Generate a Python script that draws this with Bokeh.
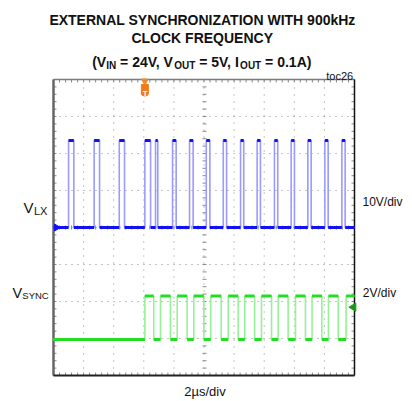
import numpy as np
from bokeh.plotting import figure
from bokeh.models import Range1d, Label
from bokeh.embed import file_html
from bokeh.resources import INLINE

# ---------------- data (read from the scope capture) ----------------
# time axis: 2 us/div, 10 divisions; vertical axis in divisions (8 divs)
VLX_LOW, VLX_HIGH = 0.0, 2.35          # 10V/div channel, divisions
SYNC_LOW, SYNC_HIGH = -3.03, -1.85     # 2V/div channel, divisions
VLX_RISE_US = [1.00, 2.70, 4.37, 6.07, 6.78, 7.91, 9.04, 10.15, 11.28, 12.43,
               13.53, 14.68, 15.79, 16.90, 18.03, 19.16]
VLX_FALL_US = [1.35, 3.06, 4.72, 6.45, 6.93, 8.15, 9.28, 10.39, 11.50, 12.64,
               13.75, 14.90, 16.01, 17.12, 18.25, 19.38]
SYNC_RISE_US = [6.07, 7.11, 8.22, 9.32, 10.45, 11.61, 12.71, 13.82, 14.93,
                16.08, 17.18, 18.27, 19.44]
SYNC_FALL_US = [6.66, 7.77, 8.88, 9.99, 11.14, 12.27, 13.36, 14.49, 15.59,
                16.74, 17.83, 18.92]
TRIGGER_US = 6.07
TITLE_1 = "EXTERNAL SYNCHRONIZATION WITH 900kHz"
TITLE_2 = "CLOCK FREQUENCY"
X_SCALE_TEXT = "2\u00b5s/div"
CH1_SCALE_TEXT = "10V/div"
CH2_SCALE_TEXT = "2V/div"

T0, T1 = 0.0, 20.0          # screen span, us
V0, V1 = -4.0, 4.0          # screen span, divisions
FONT = "Liberation Sans"

# page-pixel helpers (scope screen spans x 53..354, y 79..375)
def X(px):
    return (px - 53.0) / 301.0 * (T1 - T0)

def Y(py):
    return (227.0 - py) / 37.0


W, H = 412, 401

p = figure(width=W, height=H, x_range=Range1d(X(0), X(W)),
           y_range=Range1d(Y(H), Y(0)), x_axis_type=None, y_axis_type=None,
           min_border=0, toolbar_location=None, output_backend="svg")
p.outline_line_color = None
p.grid.visible = False
p.background_fill_color = "white"
p.border_fill_color = "white"

xt = np.arange(T0, T1 + 0.001, 2.0)
xm = np.round(np.arange(T0, T1 + 0.001, 0.4), 3)
yt = np.arange(V0, V1 + 0.001, 1.0)
ym = np.round(np.arange(V0, V1 + 0.001, 0.2), 3)

# dotted graticule
p.segment(x0=xt[1:-1], x1=xt[1:-1], y0=V0, y1=V1, line_color="#8a8a8a",
          line_width=1, line_dash="1 6")
p.segment(x0=T0, x1=T1, y0=yt[1:-1], y1=yt[1:-1], line_color="#8a8a8a",
          line_width=1, line_dash="1 5")

# edge ticks (inward, 3px)
tick_c = "#8a8a8a"
p.segment(x0=T0, x1=X(56), y0=ym, y1=ym, line_color=tick_c)
p.segment(x0=X(351), x1=T1, y0=ym, y1=ym, line_color=tick_c)
p.segment(x0=xm, x1=xm, y0=V1, y1=Y(82), line_color=tick_c)
p.segment(x0=xm, x1=xm, y0=V0, y1=Y(372), line_color=tick_c)
# center cross ticks
p.segment(x0=X(202), x1=X(206), y0=ym, y1=ym, line_color=tick_c)
p.segment(x0=xm, x1=xm, y0=Y(229), y1=Y(225), line_color=tick_c)

# screen border
p.segment(x0=[T0], x1=[T0], y0=[V0], y1=[V1], line_color="#666666", line_width=2.5)
p.segment(x0=[T0], x1=[T1], y0=[V1], y1=[V1], line_color="#7a7a7a", line_width=1.5)
p.segment(x0=[T1], x1=[T1], y0=[V0], y1=[V1], line_color="#111111", line_width=1.5)
p.segment(x0=[T0], x1=[T1], y0=[V0], y1=[V0], line_color="#222222", line_width=2)


def steps(rises, falls, lo, hi):
    ev = sorted([(t, hi) for t in rises] + [(t, lo) for t in falls])
    xs, ys, level = [T0], [lo], lo
    for t, new in ev:
        xs += [t, t]
        ys += [level, new]
        level = new
    xs.append(T1)
    ys.append(level)
    return xs, ys


def flats(xs, ys):
    x0, x1, y0 = [], [], []
    for i in range(len(xs) - 1):
        if ys[i] == ys[i + 1] and xs[i + 1] > xs[i]:
            x0.append(xs[i]); x1.append(xs[i + 1]); y0.append(ys[i])
    return x0, x1, y0


bx, by = steps(VLX_RISE_US, VLX_FALL_US, VLX_LOW, VLX_HIGH)
p.line(bx, by, line_color="#9a9aff", line_width=1.6)
fx0, fx1, fy = flats(bx, by)
p.segment(x0=fx0, x1=fx1, y0=fy, y1=fy, line_color="#1212f0", line_width=3)

gx, gy = steps(SYNC_RISE_US, SYNC_FALL_US, SYNC_LOW, SYNC_HIGH)
p.line(gx, gy, line_color="#96f296", line_width=1.6)
hx0, hx1, hy = flats(gx, gy)
p.segment(x0=hx0, x1=hx1, y0=hy, y1=hy, line_color="#22dd22", line_width=3)

# channel / trigger markers
p.scatter(x=[X(56)], y=[VLX_LOW], marker="triangle", angle=-np.pi / 2,
          size=7, color="#1010ff")
p.scatter(x=[X(353)], y=[Y(306.7)], marker="triangle", angle=np.pi / 2,
          size=8, color="#169a16")
p.scatter(x=[TRIGGER_US], y=[Y(80.5)], marker="inverted_triangle", size=7,
          color="#f08a2a")
p.rect(x=[TRIGGER_US], y=[Y(88.5)], width=7, height=9, width_units="screen",
       height_units="screen", color="#f07a1c")
p.ellipse(x=[TRIGGER_US], y=[Y(93)], width=7, height=5, width_units="screen",
          height_units="screen", color="#f07a1c")


def lab(text, px, py, size, bold=False, align="left", color="#111111"):
    p.add_layout(Label(x=X(px), y=Y(py), text=text, text_font=FONT,
                       text_font_size=f"{size}px",
                       text_font_style="bold" if bold else "normal",
                       text_align=align, text_baseline="alphabetic",
                       text_color=color))


lab("T", 144.7, 93, 8, bold=True, align="center", color="white")

lab(TITLE_1, 202, 19.5, 14, bold=True, align="center")
lab(TITLE_2, 201.7, 37.5, 14, bold=True, align="center")
lab("(V", 91.7, 61, 14, bold=True)
lab("IN", 105.7, 64.5, 10, bold=True)
lab("= 24V, V", 119.6, 61, 14, bold=True)
lab("OUT", 173.7, 64.5, 10, bold=True)
lab("= 5V, I", 198.7, 61, 14, bold=True)
lab("OUT", 239.6, 64.5, 10, bold=True)
lab("= 0.1A)", 264.6, 61, 14, bold=True)

lab("toc26", 352.7, 75, 11, align="right")

lab("V", 23, 207, 15)
lab("LX", 33.5, 210, 11)
lab("V", 12, 292, 14.5)
lab("SYNC", 21.8, 295, 9.5)
lab(CH1_SCALE_TEXT, 362, 201.7, 12)
lab(CH2_SCALE_TEXT, 362.3, 292.3, 12)
lab(X_SCALE_TEXT, 204.5, 390.7, 13, align="center")

open("out.html", "w").write(file_html(p, INLINE))
